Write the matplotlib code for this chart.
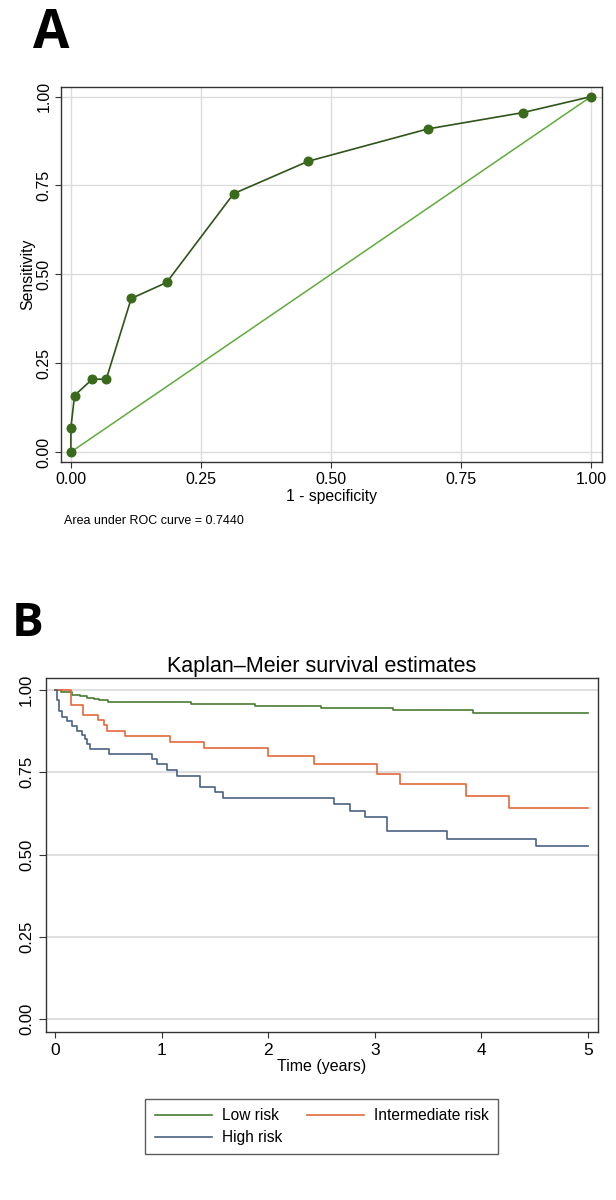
import matplotlib
matplotlib.use("Agg")
import matplotlib.pyplot as plt

# ---------------- data ----------------
roc_fpr = [0.0, 0.0, 0.007, 0.041, 0.068, 0.116, 0.184, 0.313, 0.456, 0.686, 0.869, 1.0]
roc_sens = [0.0, 0.068, 0.159, 0.205, 0.205, 0.432, 0.477, 0.727, 0.818, 0.909, 0.955, 1.0]
roc_ticks = [0.0, 0.25, 0.5, 0.75, 1.0]
roc_ticklabels = ["0.00", "0.25", "0.50", "0.75", "1.00"]
auc_text = "Area under ROC curve = 0.7440"

low_t = [0, 0.05, 0.155, 0.23, 0.30, 0.36, 0.41, 0.49, 1.27, 1.87, 2.49, 3.17, 3.92, 5.0]
low_s = [1.0, 0.995, 0.985, 0.980, 0.976, 0.972, 0.968, 0.963, 0.958, 0.952, 0.945, 0.938, 0.930, 0.930]

int_t = [0, 0.15, 0.26, 0.40, 0.457, 0.483, 0.653, 1.073, 1.398, 2.0, 2.43, 3.02, 3.24, 3.86, 4.26, 5.0]
int_s = [1.0, 0.955, 0.924, 0.907, 0.892, 0.876, 0.860, 0.841, 0.823, 0.799, 0.775, 0.746, 0.714, 0.678, 0.642, 0.642]

high_t = [0, 0.014, 0.03, 0.061, 0.108, 0.155, 0.202, 0.249, 0.28, 0.296, 0.321, 0.499, 0.906,
          0.953, 1.047, 1.141, 1.354, 1.50, 1.573, 2.615, 2.77, 2.905, 3.113, 3.68, 4.513, 5.0]
high_s = [1.0, 0.97, 0.935, 0.919, 0.904, 0.889, 0.876, 0.863, 0.85, 0.836, 0.821, 0.806, 0.79,
          0.775, 0.757, 0.737, 0.704, 0.691, 0.673, 0.653, 0.632, 0.614, 0.571, 0.548, 0.525, 0.525]

km_labels = ["Low risk", "Intermediate risk", "High risk"]
km_xticks = [0, 1, 2, 3, 4, 5]
km_yticks = [0.0, 0.25, 0.5, 0.75, 1.0]
km_yticklabels = ["0.00", "0.25", "0.50", "0.75", "1.00"]

# ---------------- style ----------------
plt.rcParams['font.family'] = ['Liberation Sans', 'DejaVu Sans']

W, H = 616, 1200
fig = plt.figure(figsize=(W / 100, H / 100), dpi=100)
fig.patch.set_facecolor("white")


def px_axes(left, top, right, bottom):
    return fig.add_axes([left / W, (H - bottom) / H, (right - left) / W, (bottom - top) / H])


frame_col = "#333333"
grid_col = "#dcdcdc"

# ---------------- Panel A ----------------
axA = px_axes(61, 87, 602, 462)
axA.set_xlim(-0.019, 1.021)
axA.set_ylim(-0.028, 1.027)
axA.grid(True, color=grid_col, lw=1.0)
axA.set_axisbelow(True)
axA.plot([0, 1], [0, 1], color="#5fab3c", lw=1.1, zorder=2)
axA.plot(roc_fpr, roc_sens, color="#2f5419", lw=1.2, marker="o", ms=6.2,
         mfc="#3a6a1c", mec="#3a6a1c", zorder=3)
axA.set_xticks(roc_ticks)
axA.set_xticklabels(roc_ticklabels)
axA.set_yticks(roc_ticks)
axA.set_yticklabels(roc_ticklabels)
axA.tick_params(axis="x", direction="out", length=4, width=0.8, color=frame_col,
                labelsize=11.5, pad=3.5)
axA.tick_params(axis="y", direction="out", length=4.3, width=0.8, color=frame_col,
                labelsize=11.5, pad=2.4, labelrotation=90)
for lab in axA.get_yticklabels():
    lab.set_va("center")
for sp in axA.spines.values():
    sp.set_color(frame_col)
    sp.set_linewidth(1.0)
axA.set_xlabel("1 - specificity", fontsize=11.3, labelpad=1)
axA.set_ylabel("Sensitivity", fontsize=11.4, labelpad=1.2)
fig.text(64 / W, 1 - 524 / H, auc_text, fontsize=9, va="baseline", ha="left")
fig.text(33 / W, 1 - 48.5 / H, "A", fontsize=38, fontweight="bold", family="Open Sans",
         va="baseline", ha="left")

# ---------------- Panel B ----------------
axB = px_axes(46, 678, 598, 1032)
axB.set_xlim(-0.088, 5.095)
axB.set_ylim(-0.0386, 1.036)
axB.yaxis.grid(True, color=grid_col, lw=1.3)
axB.set_axisbelow(True)
cols = ["#4a7d33", "#e2693b", "#4a6283"]
l1, = axB.step(low_t, low_s, where="post", color=cols[0], lw=1.2)
l2, = axB.step(int_t, int_s, where="post", color=cols[1], lw=1.2)
l3, = axB.step(high_t, high_s, where="post", color=cols[2], lw=1.2)
axB.set_xticks(km_xticks)
axB.set_yticks(km_yticks)
axB.set_yticklabels(km_yticklabels)
axB.tick_params(axis="x", direction="out", length=4.5, width=0.8, color=frame_col,
                labelsize=12.5, pad=3.5)
axB.tick_params(axis="y", direction="out", length=5, width=0.8, color=frame_col,
                labelsize=12, pad=3.5, labelrotation=90)
for lab in axB.get_yticklabels():
    lab.set_va("center")
for sp in axB.spines.values():
    sp.set_color(frame_col)
    sp.set_linewidth(1.0)
axB.set_xlabel("Time (years)", fontsize=11.5, labelpad=1)
axB.set_title("Kaplan\u2013Meier survival estimates", fontsize=15.5, pad=4.5)
leg = fig.legend([l1, l3, l2], [km_labels[0], km_labels[2], km_labels[1]], ncol=2,
                 loc="center", bbox_to_anchor=(321.5 / W, 1 - 1126.5 / H),
                 fontsize=11.2, frameon=True, fancybox=False, edgecolor="#333333",
                 handlelength=3.7, handletextpad=0.6, columnspacing=1.6,
                 labelspacing=0.45, borderpad=0.6, borderaxespad=0)
leg.get_frame().set_linewidth(1.0)
fig.text(12 / W, 1 - 636 / H, "B", fontsize=34, fontweight="bold", family="Open Sans",
         va="baseline", ha="left")

fig.savefig("out.png", dpi=100, facecolor="white")
